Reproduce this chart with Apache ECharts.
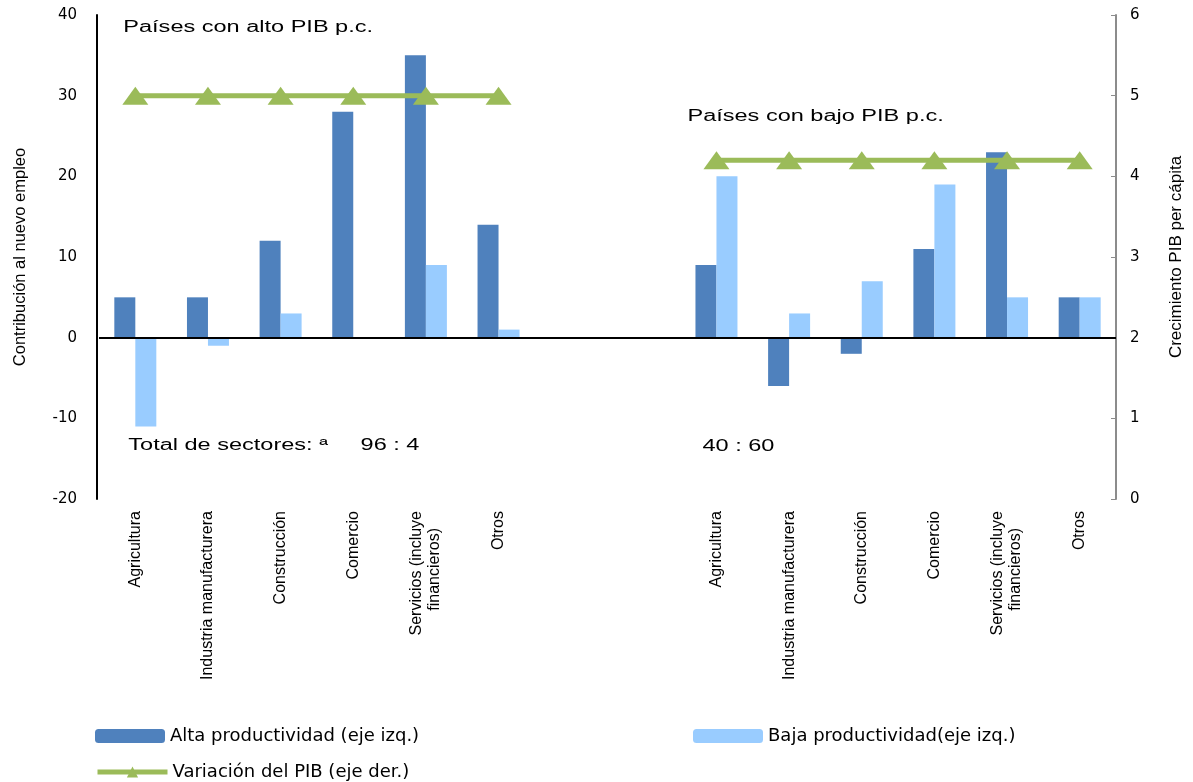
<!DOCTYPE html>
<html>
<head>
<meta charset="utf-8">
<script src="https://cdn.jsdelivr.net/npm/echarts@6/dist/echarts.min.js"></script>
<style>
html,body{margin:0;padding:0;background:#fff;}
#chart{width:1193px;height:782px;}
</style>
</head>
<body>
<div id="chart"></div>
<script>
const categories = ['Agricultura','Industria manufacturera','Construcción','Comercio','Servicios (incluye\nfinancieros)','Otros','','','Agricultura','Industria manufacturera','Construcción','Comercio','Servicios (incluye\nfinancieros)','Otros'];
const altaProd = [5,5,12,28,35,14,null,null,9,-6,-2,11,23,5];
const bajaProd = [-11,-1,3,0,9,1,null,null,20,3,7,19,5,5];
const varPIB = [5,5,5,5,5,5,null,null,4.2,4.2,4.2,4.2,4.2,4.2];
const leftTicks = {min:-20,max:40,interval:10};
const rightTicks = {min:0,max:6,interval:1};
const seriesNames = ['Alta productividad (eje izq.)','Baja productividad(eje izq.)','Variación del PIB (eje der.)'];
const notes = [
  {text:'Países con alto PIB p.c.', cat:0, val:38.5, dx:-12},
  {text:'Países con bajo PIB p.c.', cat:8, val:27.35, dx:-29},
  {text:'Total de sectores: ª     96 : 4', cat:0, val:-13.4, dx:-7},
  {text:'40 : 60', cat:8, val:-13.5, dx:-14}
];

const chart = echarts.init(document.getElementById('chart'), null, {renderer:'canvas'});
const narrow = '"Liberation Sans Narrow", "Arial Narrow", "Liberation Sans", sans-serif';
const regular = '"Liberation Sans", Arial, sans-serif';
const wide = '"DejaVu Sans", sans-serif';
const legendFont = {fontFamily:wide, fontSize:18, color:'#000'};

const option = {
  animation:false,
  backgroundColor:'#fff',
  grid:{left:99, right:76, top:15, bottom:283},
  legend:[
    {data:[seriesNames[0]], left:90, top:722, itemWidth:70, itemHeight:14, itemGap:5, textStyle:legendFont, selectedMode:false},
    {data:[seriesNames[1]], left:688, top:722, itemWidth:70, itemHeight:14, itemGap:5, textStyle:legendFont, selectedMode:false},
    {data:[seriesNames[2]], left:90, top:758, itemWidth:70, itemHeight:14, itemGap:5, textStyle:legendFont, selectedMode:false,
     lineStyle:{width:5}}
  ],
  xAxis:{
    type:'category', data:categories,
    axisLine:{show:false}, axisTick:{show:false},
    axisLabel:{rotate:90, interval:0, margin:12, fontFamily:narrow, fontSize:16, color:'#000', lineHeight:18,
      formatter:function(v){
        if (v.indexOf('\n') < 0) return v;
        const parts = v.split('\n');
        return '{a|' + parts[0] + '}\n{f|' + parts[1] + '}';
      },
      rich:{
        a:{fontFamily:narrow, fontSize:16, color:'#000', lineHeight:18},
        f:{fontFamily:narrow, fontSize:16, color:'#000', lineHeight:18, padding:[0,17,0,0]}
      }
    }
  },
  yAxis:[
    {type:'value', min:leftTicks.min, max:leftTicks.max, interval:leftTicks.interval, offset:2,
     name:'Contribución al nuevo empleo', nameLocation:'middle', nameGap:68, nameRotate:90,
     nameTextStyle:{fontFamily:narrow, fontSize:16.5, color:'#000'},
     axisLine:{show:true, lineStyle:{color:'#000', width:2}}, axisTick:{show:false},
     axisLabel:{margin:20, fontFamily:wide, fontSize:15, color:'#000'},
     splitLine:{show:false}},
    {type:'value', position:'right', min:rightTicks.min, max:rightTicks.max, interval:rightTicks.interval,
     name:'Crecimiento PIB per cápita', nameLocation:'middle', nameGap:52, nameRotate:90,
     nameTextStyle:{fontFamily:narrow, fontSize:17, color:'#000'},
     axisLine:{show:true, lineStyle:{color:'#8c8c8c', width:2}},
     axisTick:{show:true, inside:true, length:5, lineStyle:{color:'#8c8c8c', width:1}},
     axisLabel:{margin:14, fontFamily:wide, fontSize:15, color:'#000'},
     splitLine:{show:false}}
  ],
  series:[
    {name:seriesNames[0], type:'bar', data:altaProd, yAxisIndex:0, barWidth:21, barGap:'0%',
     itemStyle:{color:'#4F81BD'},
     markLine:{silent:true, symbol:'none', label:{show:false}, lineStyle:{color:'#000', width:2, type:'solid'},
       data:[{yAxis:0}]}},
    {name:seriesNames[1], type:'bar', data:bajaProd, yAxisIndex:0, barWidth:21, barGap:'0%',
     itemStyle:{color:'#99CCFF'}},
    {name:seriesNames[2], type:'line', data:varPIB, yAxisIndex:1, connectNulls:false,
     symbol:'triangle', symbolSize:[26,18],
     lineStyle:{color:'#9BBB59', width:5}, itemStyle:{color:'#9BBB59'}, z:5}
  ]
};
chart.setOption(option);

const graphics = notes.map(function(n){
  const p = chart.convertToPixel({xAxisIndex:0, yAxisIndex:0}, [n.cat, n.val]);
  return {type:'text', x:p[0]+n.dx, y:p[1], scaleX:1.47, scaleY:1,
    style:{text:n.text, fontFamily:regular, fontSize:16, fill:'#000', textAlign:'left', textVerticalAlign:'middle'}};
});
chart.setOption({graphic:graphics});
</script>
</body>
</html>
